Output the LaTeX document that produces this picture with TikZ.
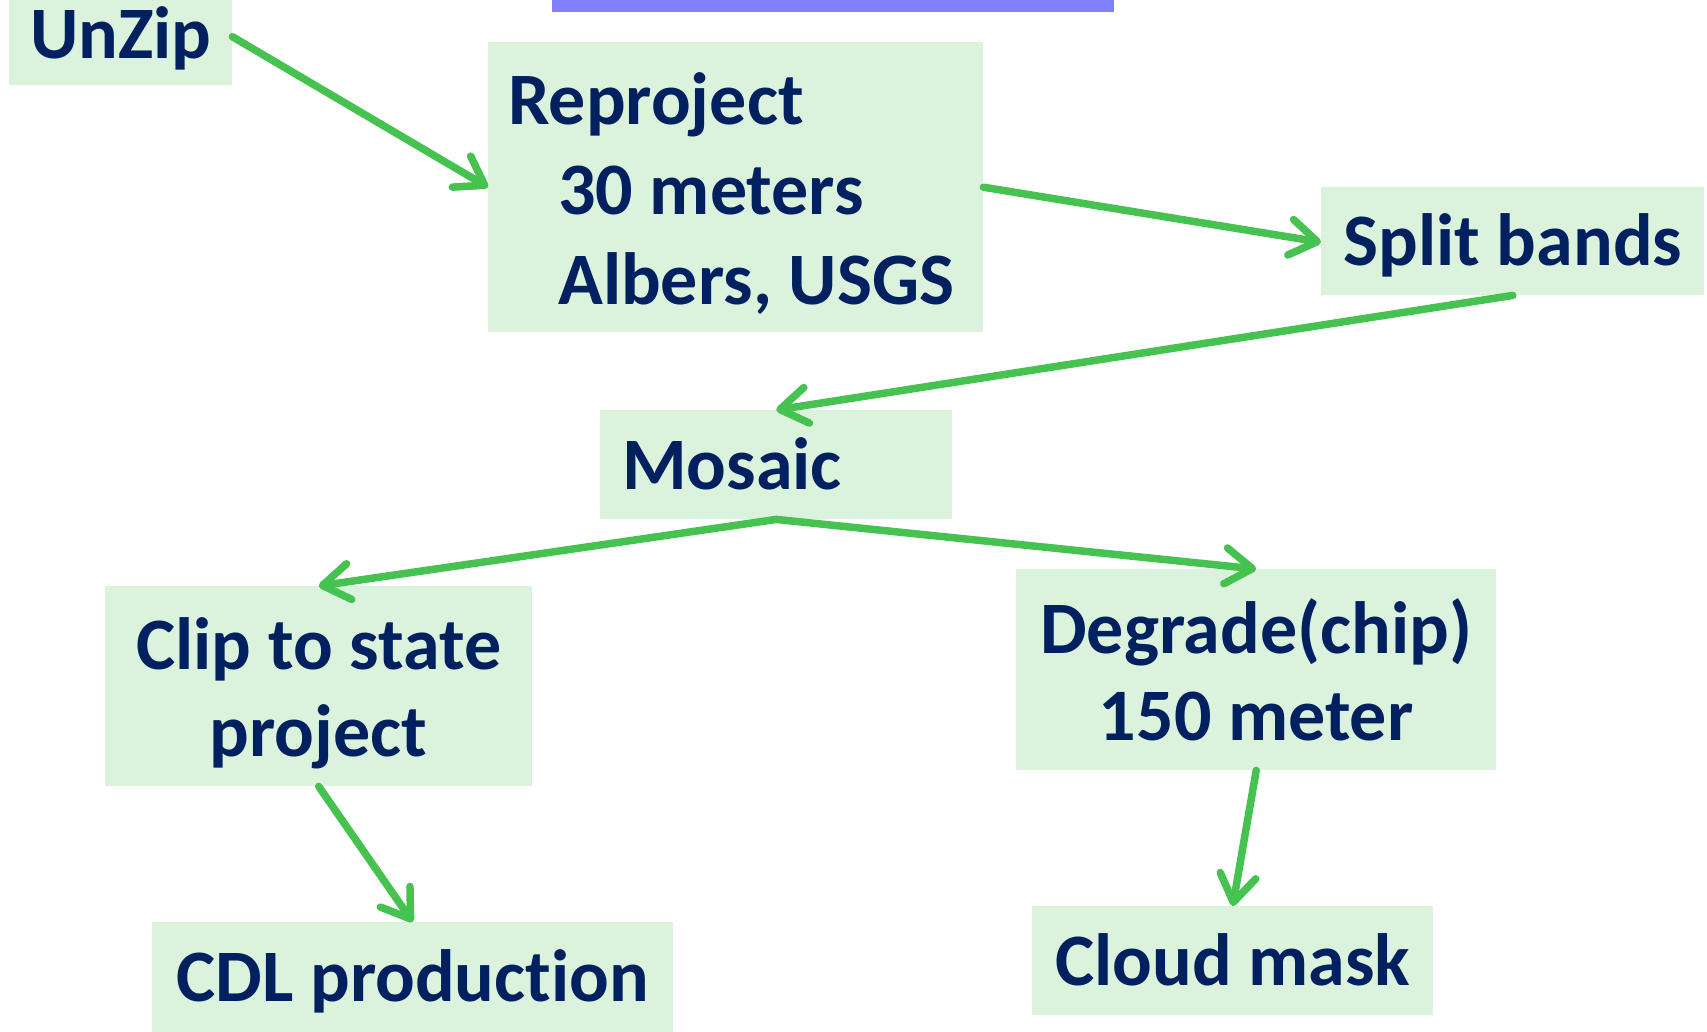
\documentclass[tikz,border=0pt]{standalone}
\usepackage{fontspec}
\setmainfont{Carlito}[Ligatures=NoCommon]
\usetikzlibrary{arrows.meta}
\definecolor{boxfill}{RGB}{219,242,221}
\definecolor{navy}{RGB}{0,32,96}
\definecolor{arrowgreen}{RGB}{70,194,80}
\definecolor{barblue}{RGB}{128,128,255}
\begin{document}
\begin{tikzpicture}[x=1pt,y=-1pt,
  box/.style={fill=boxfill, anchor=north west, inner ysep=0pt, inner xsep=0pt,
    text=navy, font=\fontsize{74pt}{87pt}\selectfont\bfseries},
  single/.style={text height=60pt, text depth=11pt},
  flow/.style={draw=arrowgreen, line width=7.5pt, line cap=round, line join=round,
    -{Straight Barb[length=27pt, width=36pt, round]}},
  bar/.style={fill=barblue, anchor=north west, inner sep=0pt}]
\useasboundingbox (0,0) rectangle (1707,1031);
\fill[white] (0,0) rectangle (1707,1031);

\node[bar, minimum width=562pt, minimum height=13pt] (bar) at (552,-1) {};

\node[box, single, minimum width=223pt, minimum height=103pt, text width=223pt, align=flush center]
  (unzip) at (9,-18) {UnZip};
\node[box, font=\fontsize{74pt}{90pt}\selectfont\bfseries, minimum width=495pt, minimum height=290pt,
  inner xsep=20pt, text width=455pt, align=flush left]
  (rep) at (488,42) {\rule{0pt}{65pt}Reproject\\\hspace*{50pt}30 meters\\\hspace*{50pt}Albers, USGS};
\node[box, single, minimum width=383pt, minimum height=108pt, text width=383pt, align=flush center]
  (split) at (1321,187) {Split bands};
\node[box, single, minimum width=352pt, minimum height=109pt, inner xsep=22pt, text width=308pt, align=flush left]
  (mosaic) at (600,410) {Mosaic};
\node[box, minimum width=427pt, minimum height=200pt, text width=427pt, align=flush center]
  (clip) at (105,586) {\rule{0pt}{66pt}Clip to state\\project};
\node[box, minimum width=480pt, minimum height=201pt, text width=480pt, align=flush center]
  (degrade) at (1016,569) {Degrade(chip)\\150 meter};
\node[box, single, minimum width=521pt, minimum height=110pt, text width=521pt, align=flush center]
  (cdl) at (152,922) {CDL production};
\node[box, single, minimum width=401pt, minimum height=109pt, text width=401pt, align=flush center]
  (cloud) at (1032,906) {Cloud mask};

\draw[flow] ([yshift=-3pt]unzip.east) -- (rep.west);
\draw[flow] (rep.east) -- ([yshift=-1pt]split.west);
\draw[flow] (split.south) -- (mosaic.north);
\draw[flow] (mosaic.south) -- (clip.north);
\draw[flow] (mosaic.south) -- (degrade.north);
\draw[flow] (clip.south) -- (cdl.north);
\draw[flow] (degrade.south) -- (cloud.north);
\end{tikzpicture}
\end{document}
